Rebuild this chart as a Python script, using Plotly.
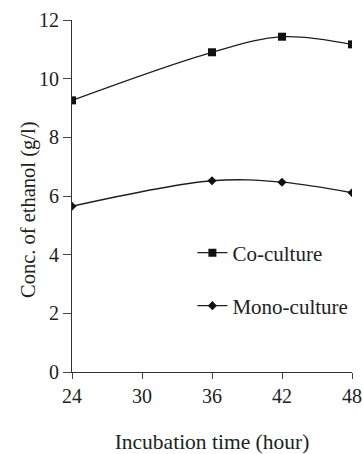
import plotly.graph_objects as go

hours = [24, 36, 42, 48]
co_culture = [9.26, 10.9, 11.43, 11.17]
mono_culture = [5.65, 6.52, 6.47, 6.11]
x_ticks = [24, 30, 36, 42, 48]
y_ticks = [0, 2, 4, 6, 8, 10, 12]

FONT = "Liberation Serif"
INK = "#1f1f1f"
TEXT = "#222222"

fig = go.Figure()
fig.add_trace(go.Scatter(
    x=hours, y=co_culture, name="Co-culture", mode="lines+markers",
    line=dict(color=INK, width=1.3, shape="spline", smoothing=1),
    marker=dict(symbol="square", size=8, color="#111111"),
    legend="legend",
))
fig.add_trace(go.Scatter(
    x=hours, y=mono_culture, name="Mono-culture", mode="lines+markers",
    line=dict(color=INK, width=1.3, shape="spline", smoothing=1),
    marker=dict(symbol="diamond", size=7, color="#111111"),
    legend="legend2",
))

legend_style = dict(
    xanchor="left", yanchor="middle", bgcolor="rgba(0,0,0,0)",
    font=dict(size=21, family=FONT, color=TEXT),
)

fig.update_layout(
    width=363, height=454,
    margin=dict(l=72, r=11, t=20, b=82, autoexpand=False),
    paper_bgcolor="white", plot_bgcolor="white",
    font=dict(family=FONT, color=TEXT),
    showlegend=True,
    legend=dict(x=0.43, y=(372 - 253) / 352, **legend_style),
    legend2=dict(x=0.43, y=(372 - 306) / 352, **legend_style),
    xaxis=dict(
        range=[24, 48], tickvals=x_ticks, ticks="outside", ticklen=6,
        showline=True, linecolor="#333333", linewidth=1, showgrid=False,
        zeroline=False, tickfont=dict(size=20, family=FONT), automargin=False,
        title=dict(text="Incubation time (hour)", font=dict(size=21.5, family=FONT), standoff=32),
    ),
    yaxis=dict(
        range=[0, 12], tickvals=y_ticks, ticks="outside", ticklen=8,
        showline=True, linecolor="#333333", linewidth=1, showgrid=False,
        zeroline=False, tickfont=dict(size=20, family=FONT), automargin=False,
    ),
    annotations=[dict(
        text="Conc. of ethanol (g/l)", textangle=-90, showarrow=False,
        xref="paper", yref="paper", x=(28 - 72) / 280, y=(372 - 210) / 352,
        xanchor="center", yanchor="middle",
        font=dict(size=20.5, family=FONT, color=TEXT),
    )],
)

fig.write_html("out.html")
